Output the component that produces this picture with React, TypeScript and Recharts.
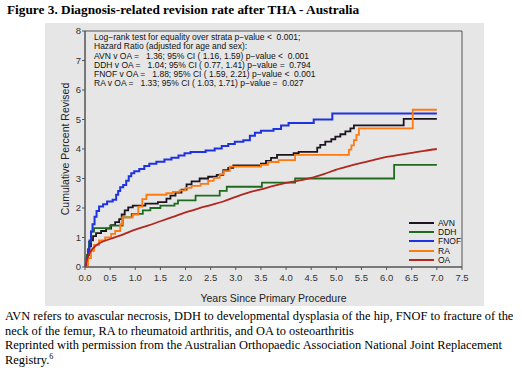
import { LineChart, Line, XAxis, YAxis, ReferenceArea } from "recharts";

// years since primary procedure vs cumulative percent revised (KM steps)
const avnSteps: [number, number][] = [
  [0, 0], [0.04, 0.4], [0.08, 0.7], [0.12, 0.9], [0.16, 1.05], [0.22, 1.15], [0.32, 1.22],
  [0.42, 1.3], [0.52, 1.42], [0.6, 1.52], [0.68, 1.62], [0.73, 1.78], [0.79, 1.92], [0.86, 2.02],
  [0.95, 2.08], [1.2, 2.15], [1.45, 2.2], [1.62, 2.32], [1.7, 2.42], [1.8, 2.52], [1.92, 2.62],
  [2.02, 2.8], [2.12, 2.9], [2.28, 3.0], [2.45, 3.06], [2.62, 3.12], [2.75, 3.28], [2.85, 3.36],
  [2.95, 3.44], [3.5, 3.5], [3.6, 3.6], [3.7, 3.7], [3.82, 3.8], [4.15, 3.86], [4.25, 3.9],
  [4.62, 4.05], [4.68, 4.14], [4.78, 4.25], [4.9, 4.33], [4.98, 4.42], [5.08, 4.5], [5.18, 4.6],
  [5.28, 4.7], [5.35, 4.8], [6.34, 5.02], [7.0, 5.02],
];

const ddhSteps: [number, number][] = [
  [0, 0], [0.04, 0.4], [0.08, 0.85], [0.12, 1.2], [0.18, 1.32], [0.5, 1.4], [0.75, 1.68],
  [0.93, 1.8], [1.15, 1.92], [1.3, 2.0], [1.5, 2.08], [1.78, 2.15], [1.85, 2.26], [2.2, 2.42],
  [2.68, 2.58], [2.82, 2.72], [3.52, 2.86], [4.18, 3.0], [6.15, 3.46], [7.0, 3.46],
];

const fnofSteps: [number, number][] = [
  [0, 0], [0.03, 0.3], [0.06, 0.6], [0.09, 0.9], [0.12, 1.2], [0.15, 1.45], [0.19, 1.7],
  [0.23, 1.9], [0.28, 2.05], [0.36, 2.13], [0.44, 2.22], [0.55, 2.28], [0.62, 2.45], [0.66, 2.58],
  [0.7, 2.7], [0.76, 2.78], [0.82, 2.92], [0.87, 3.08], [0.92, 3.18], [0.98, 3.25], [1.08, 3.32],
  [1.18, 3.42], [1.28, 3.5], [1.42, 3.57], [1.58, 3.64], [1.72, 3.7], [1.86, 3.78], [1.98, 3.86],
  [2.1, 3.9], [2.4, 3.95], [2.58, 4.02], [2.72, 4.1], [2.85, 4.17], [2.98, 4.25], [3.15, 4.3],
  [3.28, 4.45], [3.38, 4.55], [3.5, 4.62], [3.75, 4.68], [3.9, 4.8], [4.05, 4.88], [4.55, 5.0],
  [4.92, 5.2], [7.0, 5.2],
];

const raSteps: [number, number][] = [
  [0, 0], [0.06, 0.3], [0.12, 0.55], [0.18, 0.75], [0.28, 0.9], [0.4, 1.0], [0.52, 1.12],
  [0.6, 1.22], [0.7, 1.45], [0.74, 1.68], [0.95, 1.78], [1.06, 2.05], [1.14, 2.3], [1.22, 2.45],
  [1.62, 2.5], [1.75, 2.55], [1.88, 2.6], [2.0, 2.68], [2.12, 2.75], [2.3, 2.82], [2.45, 2.92],
  [2.56, 3.02], [2.68, 3.15], [2.76, 3.25], [2.88, 3.4], [3.5, 3.46], [3.64, 3.56], [3.85, 3.62],
  [4.18, 3.8], [5.25, 3.98], [5.3, 4.12], [5.35, 4.3], [5.4, 4.48], [5.45, 4.7], [6.52, 5.33],
  [7.0, 5.33],
];

const oaCurve: [number, number][] = [
  [0, 0], [0.05, 0.3], [0.1, 0.5], [0.2, 0.7], [0.3, 0.82], [0.5, 0.95], [0.75, 1.1], [1.0, 1.27],
  [1.25, 1.4], [1.5, 1.55], [1.75, 1.7], [2.0, 1.85], [2.25, 1.98], [2.5, 2.1], [2.75, 2.22],
  [3.0, 2.38], [3.25, 2.52], [3.5, 2.63], [3.75, 2.75], [4.0, 2.85], [4.25, 2.93], [4.5, 3.02],
  [4.75, 3.15], [5.0, 3.3], [5.25, 3.42], [5.5, 3.53], [5.75, 3.63], [6.0, 3.73], [6.25, 3.8],
  [6.5, 3.87], [6.75, 3.94], [7.0, 4.0],
];

const xTicks = [0, 0.5, 1, 1.5, 2, 2.5, 3, 3.5, 4, 4.5, 5, 5.5, 6, 6.5, 7, 7.5];
const yTicks = [0, 1, 2, 3, 4, 5, 6, 7, 8];

const statLines = [
  "Log\u2212rank test for equality over strata p\u2212value <  0.001;",
  "Hazard Ratio (adjusted for age and sex):",
  "AVN v OA =   1.36; 95% CI ( 1.16, 1.59) p\u2212value <  0.001",
  "DDH v OA =   1.04; 95% CI ( 0.77, 1.41) p\u2212value =  0.794",
  "FNOF v OA =   1.88; 95% CI ( 1.59, 2.21) p\u2212value <  0.001",
  "RA v OA =   1.33; 95% CI ( 1.03, 1.71) p\u2212value =  0.027",
];

const series = [
  { name: "AVN", pts: avnSteps, color: "#1c1420", step: true },
  { name: "DDH", pts: ddhSteps, color: "#1e6b1e", step: true },
  { name: "FNOF", pts: fnofSteps, color: "#1f32e0", step: true },
  { name: "RA", pts: raSteps, color: "#ff7a10", step: true },
  { name: "OA", pts: oaCurve, color: "#b0281e", step: false },
];

const SANS = "'Liberation Sans', Arial, sans-serif";
const SERIF = "'Liberation Serif', 'Times New Roman', serif";

const toRows = (pts: [number, number][]) => pts.map(([t, pct]) => ({ t, pct }));

export default function App() {
  return (
    <div style={{ position: "absolute", left: 0, top: 0, width: 522, height: 368, background: "#fff", overflow: "hidden" }}>
      <div style={{ position: "absolute", left: 7, top: 2, fontFamily: SERIF, fontWeight: "bold", fontSize: 13.3, whiteSpace: "nowrap" }}>
        Figure 3. Diagnosis-related revision rate after THA - Australia
      </div>

      <div style={{ position: "absolute", left: 45, top: 23, width: 439, height: 283, background: "#e6e6e6" }}>
        <LineChart width={439} height={283} margin={{ top: 8, right: 22, bottom: 0, left: 0 }}>
          <XAxis
            dataKey="t"
            type="number"
            domain={[0, 7.5]}
            ticks={xTicks}
            interval={0}
            tickFormatter={(v: number) => v.toFixed(1)}
            height={39}
            stroke="#555"
            tickSize={3}
            tickMargin={4}
            tick={{ fontSize: 9.5, fill: "#333", fontFamily: SANS }}
            label={{ value: "Years  Since  Primary  Procedure", position: "insideBottom", offset: 4, fontSize: 10.5, fill: "#222", fontFamily: SANS }}
          />
          <YAxis
            type="number"
            domain={[0, 8]}
            ticks={yTicks}
            interval={0}
            width={40}
            stroke="#555"
            tickSize={3}
            tickMargin={1}
            tick={{ fontSize: 9.5, fill: "#333", fontFamily: SANS }}
            label={{ value: "Cumulative  Percent  Revised", angle: -90, position: "center", fontSize: 10.5, fill: "#222", fontFamily: SANS }}
          />
          <ReferenceArea x1={0} x2={7.5} y1={0} y2={8} fill="none" stroke="#555" strokeWidth={1} />
          {series.map((s) => (
            <Line
              key={s.name}
              data={toRows(s.pts)}
              dataKey="pct"
              name={s.name}
              type={s.step ? "stepAfter" : "monotone"}
              stroke={s.color}
              strokeWidth={s.name === "FNOF" ? 2 : 1.8}
              dot={false}
              isAnimationActive={false}
            />
          ))}
        </LineChart>
      </div>

      <div style={{ position: "absolute", left: 94, top: 33, fontFamily: SANS, fontSize: 8.5, lineHeight: "9.3px", color: "#111", whiteSpace: "pre" }}>
        {statLines.map((l, i) => (
          <div key={i}>{l}</div>
        ))}
      </div>

      <div style={{ position: "absolute", left: 409, top: 218, fontFamily: SANS, fontSize: 8.5, color: "#111" }}>
        {series.map((s) => (
          <div key={s.name} style={{ display: "flex", alignItems: "center", height: 9.3 }}>
            <span style={{ display: "inline-block", width: 25, height: 0, borderTop: `2px solid ${s.color}`, marginRight: 4 }} />
            <span>{s.name}</span>
          </div>
        ))}
      </div>

      <div style={{ position: "absolute", left: 5, top: 309, width: 515, fontFamily: SERIF, fontSize: 12.4, lineHeight: "14.5px", color: "#000" }}>
        <div style={{ whiteSpace: "nowrap" }}>AVN refers to avascular necrosis, DDH to developmental dysplasia of the hip, FNOF to fracture of the</div>
        <div style={{ whiteSpace: "nowrap" }}>neck of the femur, RA to rheumatoid arthritis, and OA to osteoarthritis</div>
        <div style={{ whiteSpace: "nowrap" }}>Reprinted with permission from the Australian Orthopaedic Association National Joint Replacement</div>
        <div style={{ whiteSpace: "nowrap" }}>
          Registry.<sup style={{ fontSize: 8, lineHeight: 0 }}>6</sup>
        </div>
      </div>
    </div>
  );
}
